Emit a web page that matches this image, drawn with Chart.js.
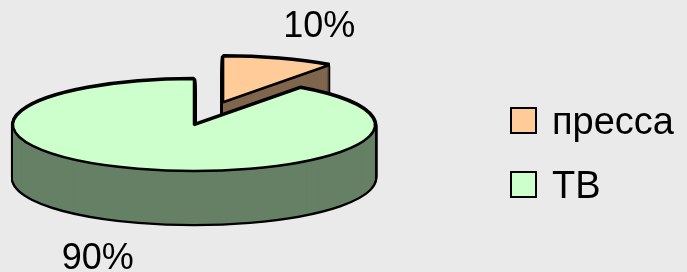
<!DOCTYPE html>
<html>
<head>
<meta charset="utf-8">
<script src="https://cdn.jsdelivr.net/npm/chart.js@4/dist/chart.umd.min.js"></script>
<style>
    html, body { margin: 0; padding: 0; background: #EAEAEA; }
    #wrap { width: 687px; height: 272px; position: relative; }
</style>
</head>
<body>
<div id="wrap"><canvas id="chart"></canvas></div>
<script>
// data
const labels = ['пресса', 'ТВ'];
const values = [10, 90];
const topColors = ['#FFCC99', '#CCFFCC'];
const sideColors = ['#80664D', '#668066'];

// 3D look (screen pixels)
const CX = 194, CY = 125;      // centre of top face
const RX = 181, RY = 46;       // ellipse radii
const DEPTH = 53;              // thickness of the pie
const EXPLODE = [0.52, 0];     // pulled out slices, fraction of radius
const LABEL_K = 1.72;
const LABEL_FONT = '36px "Liberation Sans", Arial, sans-serif';
const LEGEND_FONT = '38px "Liberation Sans", Arial, sans-serif';

// move the context so the arc lands on the tilted ellipse
function place(ctx, arc, i, d) {
    const mid = (arc.startAngle + arc.endAngle) / 2;
    const R = arc.outerRadius;
    const lift = EXPLODE[i] * R;
    ctx.translate(CX, CY + d);
    ctx.scale(RX / R, RY / R);
    ctx.translate(Math.cos(mid) * lift - arc.x, Math.sin(mid) * lift - arc.y);
}

function drawArc(ctx, arc, i, d, opts) {
    const orig = arc.options;
    arc.options = Object.assign({}, orig, opts);
    ctx.save();
    place(ctx, arc, i, d);
    // keep line width even after the squash
    const stroke = ctx.stroke;
    ctx.stroke = function () {
        this.save();
        this.setTransform(1, 0, 0, 1, 0, 0);
        stroke.apply(this, arguments);
        this.restore();
    };
    arc.draw(ctx);
    delete ctx.stroke;
    ctx.restore();
    arc.options = orig;
}

const pie3d = {
    id: 'pie3d',
    beforeDatasetsDraw(chart) {
        const ctx = chart.ctx;
        const arcs = chart.getDatasetMeta(0).data;
        // back slice first, then the big one in front
        arcs.forEach((arc, i) => {
            for (let d = DEPTH; d >= 0; d--) {
                drawArc(ctx, arc, i, d, { backgroundColor: '#000', borderColor: '#000', borderWidth: 4.5 });
            }
            for (let d = DEPTH; d >= 0; d--) {
                drawArc(ctx, arc, i, d, { backgroundColor: sideColors[i], borderWidth: 0 });
            }
            drawArc(ctx, arc, i, 0, {});
        });
        return false;
    },
    afterDraw(chart) {
        const ctx = chart.ctx;
        const arcs = chart.getDatasetMeta(0).data;
        const total = values.reduce((a, b) => a + b, 0);

        // percentage labels
        ctx.save();
        ctx.font = LABEL_FONT;
        ctx.fillStyle = '#000';
        ctx.textAlign = 'center';
        ctx.textBaseline = 'middle';
        arcs.forEach((arc, i) => {
            const mid = (arc.startAngle + arc.endAngle) / 2;
            const ex = Math.cos(mid), ey = Math.sin(mid);
            const x = CX + ex * (EXPLODE[i] + LABEL_K) * RX;
            let y = CY + ey * (EXPLODE[i] + LABEL_K) * RY;
            if (ey > 0) y += DEPTH + 6;
            ctx.fillText(Math.round(values[i] / total * 100) + '%', x, y);
        });

        // legend
        const boxX = 511, box = 25;
        const rows = [134, 198];
        ctx.font = LEGEND_FONT;
        ctx.textAlign = 'left';
        ctx.textBaseline = 'alphabetic';
        labels.forEach((lab, i) => {
            const base = rows[i];
            ctx.fillStyle = topColors[i];
            ctx.fillRect(boxX, base - box - 1, box, box);
            ctx.lineWidth = 2;
            ctx.strokeStyle = '#000';
            ctx.strokeRect(boxX, base - box - 1, box, box);
            ctx.fillStyle = '#000';
            ctx.fillText(lab, 552, base);
        });
        ctx.restore();
    }
};

new Chart(document.getElementById('chart'), {
    type: 'pie',
    data: {
        labels: labels,
        datasets: [{
            data: values,
            backgroundColor: topColors,
            borderColor: '#000',
            borderWidth: 2.5
        }]
    },
    options: {
        responsive: true,
        maintainAspectRatio: false,
        animation: false,
        plugins: {
            legend: { display: false },
            tooltip: { enabled: false }
        }
    },
    plugins: [pie3d]
});
</script>
</body>
</html>
